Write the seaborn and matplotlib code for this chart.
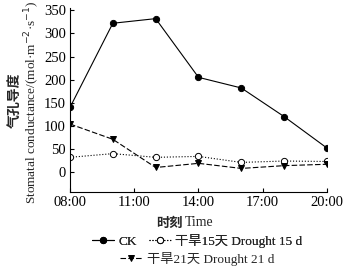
import matplotlib
matplotlib.use("Agg")
import matplotlib.pyplot as plt
import seaborn as sns
import pandas as pd
from matplotlib.lines import Line2D

hours = [8, 10, 12, 14, 16, 18, 20]
ck = [140, 322, 332, 205, 182, 120, 52]
d15 = [32, 40, 32, 34, 21, 24, 23]
d21 = [104, 71, 10, 19, 8, 14, 17]
tick_hours = [8, 11, 14, 17, 20]
tick_labels = ["08:00", "11:00", "14:00", "17:00", "20:00"]
yticks = [0, 50, 100, 150, 200, 250, 300, 350]
names = ["CK", "干旱15天 Drought 15 d", "干旱21天 Drought 21 d"]

sns.set_theme(style="ticks")
serif = ["Liberation Serif", "Noto Sans CJK SC"]
cjk = ["Noto Sans CJK SC", "Liberation Serif"]
plt.rcParams["font.family"] = serif
plt.rcParams["axes.unicode_minus"] = False

fig = plt.figure(figsize=(3.49, 2.72), dpi=100)
ax = fig.add_axes([70/349, 1-192/272, (327-70)/349, (192-8)/272])

styles = [
    dict(linestyle="-", marker="o", mfc="black", mec="black"),
    dict(linestyle=":", marker="o", mfc="white", mec="black"),
    dict(linestyle=(0, (5, 2)), marker="v", mfc="black", mec="black"),
]
for vals, st in zip([ck, d15, d21], styles):
    df = pd.DataFrame({"h": hours, "v": vals})
    sns.lineplot(data=df, x="h", y="v", ax=ax, color="black", lw=0.8,
                 markersize=4.5, mew=0.7, **st)

ax.set_xlim(8, 20)
ax.set_ylim(-43, 355)
ax.set_xticks(tick_hours)
ax.set_xticklabels(tick_labels, fontsize=10.5, family=serif)
ax.set_yticks(yticks)
ax.set_yticklabels([str(v) for v in yticks], fontsize=10.5, family=serif)
ax.tick_params(direction="in", length=3, width=0.8, colors="black", pad=3)
for s in ["top", "right"]:
    ax.spines[s].set_visible(False)
for s in ["left", "bottom"]:
    ax.spines[s].set_linewidth(0.8)
    ax.spines[s].set_color("black")
ax.set_xlabel("")
ax.set_ylabel("")

fig.text(183/349, 1-223/272, "时刻", ha="right", va="center", fontsize=9.5,
         family=cjk, fontweight="bold")
fig.text(185/349, 1-223/272, "Time", ha="left", va="center", fontsize=10, family=serif)
fig.text(15/349, 1-100/272, "气孔导度", rotation=90, ha="center", va="center",
         fontsize=10, family=cjk, fontweight="bold")
fig.text(32/349, 1-102/272, "Stomatal conductance/(mol·m$^{-2}$·s$^{-1}$)", rotation=90,
         ha="center", va="center", fontsize=9.5, family=serif)

handles = []
for name, st in zip(names, styles):
    handles.append(Line2D([], [], color="black", lw=0.8, markersize=4.5, mew=0.7, **st))

leg1 = fig.legend(handles[:2], names[:2], loc="center", ncol=2,
                  bbox_to_anchor=(197/349, 1-241/272), frameon=False,
                  prop={"family": serif, "size": 9.5}, handlelength=1.7,
                  handletextpad=0.3, columnspacing=0.9, borderpad=0)
fig.add_artist(leg1)
fig.legend(handles[2:], names[2:], loc="center", ncol=1,
           bbox_to_anchor=(197/349, 1-259/272), frameon=False,
           prop={"family": serif, "size": 9.5}, handlelength=1.7,
           handletextpad=0.3, borderpad=0)

fig.savefig("out.png", dpi=100)
